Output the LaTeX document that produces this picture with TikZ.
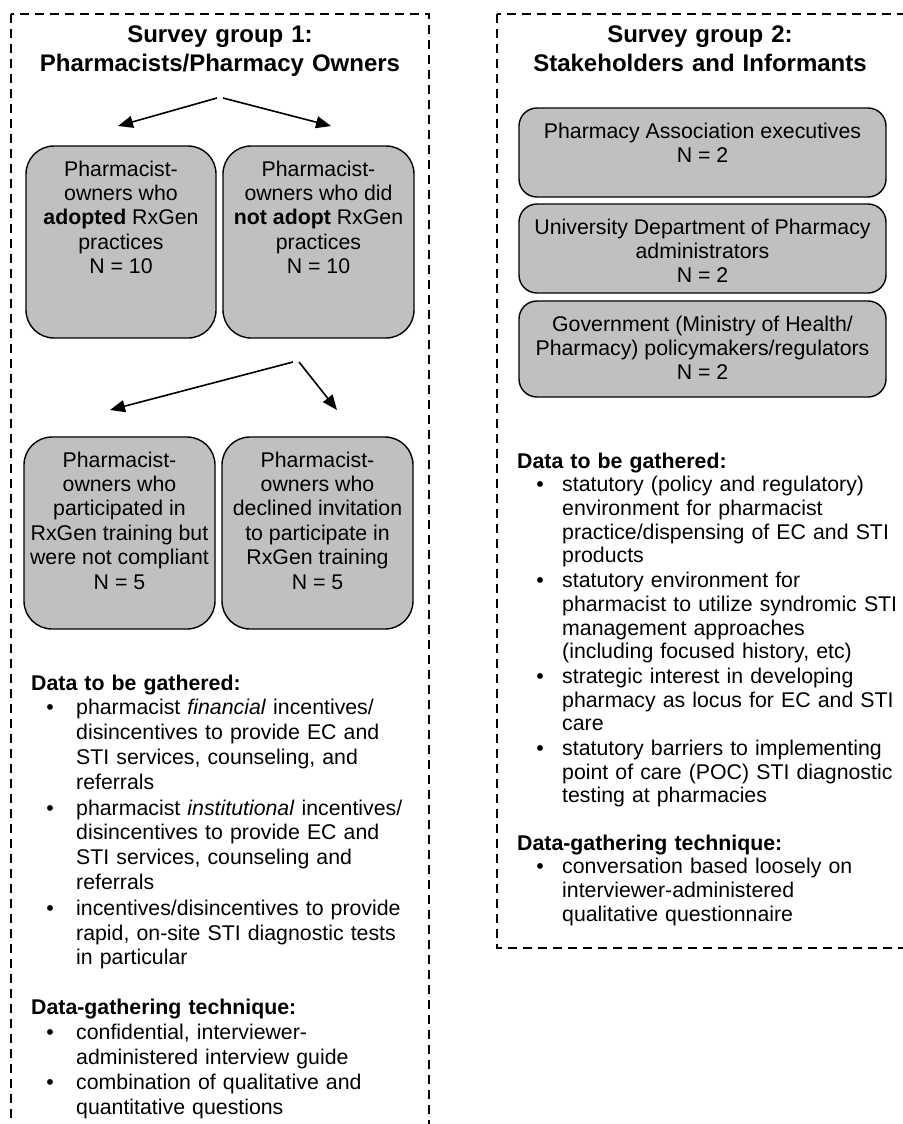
\documentclass[tikz,border=0pt]{standalone}
\usepackage{fontspec}
\setmainfont{Liberation Sans}
\usetikzlibrary{arrows.meta}
\definecolor{boxgray}{RGB}{192,192,192}
% box text sits at the top of the rounded box
\newcommand{\cellbox}[3]{\parbox[c][#2pt][t]{#1pt}{\centering\vspace*{13pt}\strut#3}}
% bullet list for the notes under the boxes
\newenvironment{dotlist}[1]{\list{\makebox[0pt][c]{\textbullet}}{\leftmargin=45pt \labelsep=#1pt \labelwidth=0pt
  \itemsep=1pt \parsep=0pt \topsep=0pt \partopsep=0pt}}{\endlist}

\begin{document}
\begin{tikzpicture}[x=1pt, y=-1pt,
  groupframe/.style={line width=1.5pt, dash pattern=on 9pt off 6pt},
  title/.style={font=\fontsize{24}{28.5}\selectfont\bfseries, text width=400pt, align=center, inner sep=0pt, anchor=north},
  cell/.style={draw, line width=1.4pt, fill=boxgray, inner sep=0pt, font=\fontsize{21.3}{24.4}\selectfont},
  flow/.style={-{Triangle[length=15pt, width=12pt]}, line width=1.6pt},
  notes/.style={text width=390pt, align=left, inner sep=0pt, anchor=north west, font=\fontsize{21.3}{#1}\selectfont}]
\useasboundingbox (0,0) rectangle (902,1124);

% dashed group frames
\draw[groupframe] (11,14) rectangle (429,1150);
\draw[groupframe] (497,14) rectangle (915,948);

\node[title] (title1) at (220,22.7) {\strut Survey group 1:\\Pharmacists/Pharmacy Owners};
\node[title] (title2) at (700,22.7) {\strut Survey group 2:\\Stakeholders and Informants};

% survey group 1
\node[cell, rounded corners=28pt] (adopt) at (121,242)
  {\cellbox{190}{192}{Pharmacist-\\owners who\\\textbf{adopted} RxGen\\practices\\N = 10}};
\node[cell, rounded corners=28pt] (noadopt) at (318.5,242)
  {\cellbox{191}{192}{Pharmacist-\\owners who did\\\textbf{not adopt} RxGen\\practices\\N = 10}};
\node[cell, rounded corners=28pt] (noncomp) at (119.5,533)
  {\cellbox{191}{192}{Pharmacist-\\owners who\\participated in\\RxGen training but\\were not compliant\\N = 5}};
\node[cell, rounded corners=28pt] (declined) at (317.5,533)
  {\cellbox{191}{192}{Pharmacist-\\owners who\\declined invitation\\to participate in\\RxGen training\\N = 5}};

\coordinate (split1a) at (217,98);
\coordinate (split1b) at (223,98);
\coordinate (end1a) at (118,126);
\coordinate (end1b) at (331,126);
\coordinate (split2a) at (293,362);
\coordinate (split2b) at (299,362);
\coordinate (end2a) at (110,410);
\coordinate (end2b) at (337,410);
\draw[flow] (split1a) -- (end1a);
\draw[flow] (split1b) -- (end1b);
\draw[flow] (split2a) -- (end2a);
\draw[flow] (split2b) -- (end2b);

\node[notes=24.8] (gather1) at (31,672.6) {\strut\textbf{Data to be gathered:}
  \begin{dotlist}{26}
  \item pharmacist \textit{financial} incentives/\\disincentives to provide EC and\\STI services, counseling, and\\referrals
  \item pharmacist \textit{institutional} incentives/\\disincentives to provide EC and\\STI services, counseling and\\referrals
  \item incentives/disincentives to provide\\rapid, on-site STI diagnostic tests\\in particular
  \end{dotlist}};
\node[notes=24.8] (technique1) at (31,997) {\strut\textbf{Data-gathering technique:}
  \begin{dotlist}{26}
  \item confidential, interviewer-\\administered interview guide
  \item combination of qualitative and\\quantitative questions
  \end{dotlist}};

% survey group 2
\node[cell, rounded corners=18pt] (assoc) at (702.5,152.5)
  {\cellbox{367}{89}{Pharmacy Association executives\\N = 2}};
\node[cell, rounded corners=18pt] (univ) at (702.5,248.5)
  {\cellbox{367}{89}{University Department of Pharmacy\\administrators\\N = 2}};
\node[cell, rounded corners=18pt] (govt) at (702.5,349)
  {\cellbox{367}{96}{Government (Ministry of Health/\\Pharmacy) policymakers/regulators\\N = 2}};

\node[notes=23.7] (gather2) at (517,451.4) {\strut\textbf{Data to be gathered:}
  \begin{dotlist}{22}
  \item statutory (policy and regulatory)\\environment for pharmacist\\practice/dispensing of EC and STI\\products
  \item statutory environment for\\pharmacist to utilize syndromic STI\\management approaches\\(including focused history, etc)
  \item strategic interest in developing\\pharmacy as locus for EC and STI\\care
  \item statutory barriers to implementing\\point of care (POC) STI diagnostic\\testing at pharmacies
  \end{dotlist}};
\node[notes=23.7] (technique2) at (517,833.4) {\strut\textbf{Data-gathering technique:}
  \begin{dotlist}{22}
  \item conversation based loosely on\\interviewer-administered\\qualitative questionnaire
  \end{dotlist}};
\end{tikzpicture}
\end{document}
